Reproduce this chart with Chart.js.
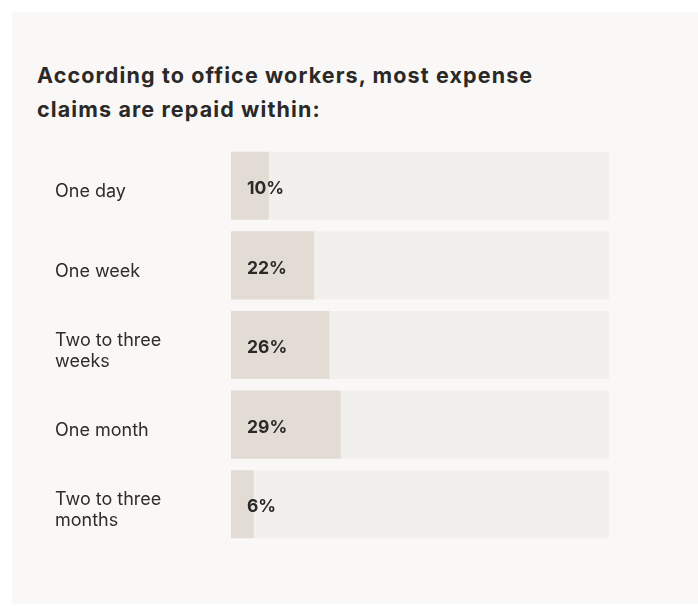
<!DOCTYPE html>
<html>
<head>
<meta charset="utf-8">
<script src="https://cdn.jsdelivr.net/npm/chart.js@4"></script>
<style>
  html, body { margin: 0; padding: 0; background: #ffffff; }
  body { width: 698px; height: 606px; position: relative; overflow: hidden; }
  #panel { position: absolute; left: 12px; top: 12px; right: 0; bottom: 2px; background: #f9f8f6; }
  #title { position: absolute; left: 37px; top: 58px; margin: 0; font-family: Inter, "Noto Sans", sans-serif; font-weight: 700; font-size: 21.5px; line-height: 34px; color: #2a2927; letter-spacing: 1.12px; white-space: nowrap; }
  #wrap { position: absolute; left: 0; top: 0; width: 698px; height: 606px; }
</style>
</head>
<body>
<div id="panel"></div>
<h2 id="title">According to office workers, most expense<br>claims are repaid within:</h2>
<div id="wrap"><canvas id="c" width="698" height="606"></canvas></div>
<script>
const categories = [["One day"], ["One week"], ["Two to three", "weeks"], ["One month"], ["Two to three", "months"]];
const values = [10, 22, 26, 29, 6];
const trackValues = [100, 100, 100, 100, 100];
const valueLabels = ["10%", "22%", "26%", "29%", "6%"];

const labelPlugin = {
  id: 'valueLabels',
  afterDatasetsDraw(chart) {
    const ctx = chart.ctx;
    const meta = chart.getDatasetMeta(1);
    ctx.save();
    ctx.font = '700 17.5px Inter, "Noto Sans", sans-serif';
    ctx.fillStyle = '#2a2927';
    ctx.textAlign = 'left';
    ctx.textBaseline = 'middle';
    meta.data.forEach((el, i) => {
      ctx.fillText(valueLabels[i], chart.chartArea.left + 16, el.y + 3);
    });
    ctx.restore();
  }
};

new Chart(document.getElementById('c'), {
  type: 'bar',
  data: {
    labels: categories,
    datasets: [
      { data: trackValues, backgroundColor: '#f2f0ec', order: 2, grouped: false, categoryPercentage: 1, barPercentage: 0.855 },
      { data: values, backgroundColor: '#e3dcd5', order: 1, grouped: false, categoryPercentage: 1, barPercentage: 0.855 }
    ]
  },
  options: {
    indexAxis: 'y',
    responsive: false,
    animation: false,
    events: [],
    layout: { padding: { left: 55, right: 89, top: 146, bottom: 62 } },
    plugins: { legend: { display: false }, tooltip: { enabled: false }, title: { display: false } },
    scales: {
      x: { display: false, min: 0, max: 100 },
      y: {
        afterFit(scale) { scale.width = 176; },
        grid: { display: false, drawTicks: false },
        border: { display: false },
        ticks: {
          crossAlign: 'far',
          padding: 0,
          labelOffset: 6,
          color: '#2e2d2b',
          font: { family: 'Inter, "Noto Sans", sans-serif', size: 18, weight: '400', lineHeight: 1.17 }
        }
      }
    }
  },
  plugins: [labelPlugin]
});
</script>
</body>
</html>
